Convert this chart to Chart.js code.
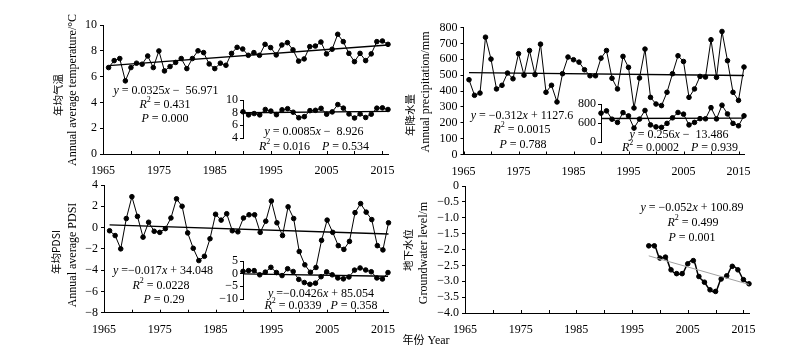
<!DOCTYPE html>
<html><head><meta charset="utf-8">
<script src="https://cdn.jsdelivr.net/npm/chart.js@4.4.0/dist/chart.umd.min.js"></script>
<style>
html,body{margin:0;padding:0;background:#fff;}
#wrap{position:relative;width:800px;height:357px;overflow:hidden;background:#fff;}
canvas{position:absolute;}
.t{position:absolute;transform:translate(-50%,-50%);font-family:'Liberation Serif','Noto Sans CJK SC',serif;font-size:12px;color:#000;white-space:pre;line-height:1;}
.t sup{font-size:8px;vertical-align:top;position:relative;top:-2px;}
.r{transform:translate(-50%,-50%) rotate(-90deg);}
.cn{font-family:'Noto Sans CJK SC',sans-serif;font-size:10.5px;}
</style></head><body><div id="wrap"></div>
<script>
// ---------------- data ----------------
const years = [1966,1967,1968,1969,1970,1971,1972,1973,1974,1975,1976,1977,1978,1979,1980,1981,1982,1983,1984,1985,1986,1987,1988,1989,1990,1991,1992,1993,1994,1995,1996,1997,1998,1999,2000,2001,2002,2003,2004,2005,2006,2007,2008,2009,2010,2011,2012,2013,2014,2015,2016];
const temperature = [6.7,7.24,7.4,5.67,6.7,7.04,6.96,7.6,6.7,7.99,6.44,6.78,7.1,7.4,6.62,7.4,8.0,7.86,6.98,6.62,7.04,6.88,7.8,8.27,8.14,7.65,7.86,7.65,8.5,8.25,7.68,8.45,8.63,8.07,7.2,7.37,8.32,8.37,8.68,7.76,8.12,9.28,8.71,7.8,7.16,7.8,7.24,7.76,8.71,8.76,8.5];
const precipitation = [471,373,387,739,601,413,436,513,477,635,500,655,503,695,392,436,331,509,614,597,582,534,496,496,607,655,480,413,618,549,293,482,664,360,318,308,392,509,622,586,360,413,492,488,723,486,775,591,392,341,551];
const pdsi = [-0.3,-0.75,-2.0,0.85,2.9,1.05,-0.9,0.5,-0.35,-0.45,-0.1,0.9,2.7,2.0,-0.5,-1.95,-3.1,-2.7,-1.05,1.25,0.7,1.3,-0.3,-0.4,0.9,1.2,1.2,-0.45,0.6,2.5,0.45,-0.75,1.95,0.85,-2.25,-3.5,-4.2,-3.75,-1.2,0.7,-0.45,-1.7,-2.05,-1.3,1.4,2.25,1.45,0.75,-1.7,-2.1,0.45];
const gwYears = [1998,1999,2000,2001,2002,2003,2004,2005,2006,2007,2008,2009,2010,2011,2012,2013,2014,2015,2016];
const groundwater = [-1.885,-1.885,-2.27,-2.24,-2.64,-2.76,-2.76,-2.45,-2.35,-2.85,-3.03,-3.27,-3.32,-2.93,-2.83,-2.53,-2.64,-2.95,-3.08];

const trendYears = [1966, 2016];
const tempTrend = [6.85, 8.45];
const precipTrend = [516, 498];
const pdsiTrend = [0.25, -0.6];
const gwTrendYears = [1998, 2016];
const gwTrend = [-2.2, -3.1];
const insetStartYear = 1990;
const insetTrendYears = [1990, 2016];
const tempInsetTrend = [7.99, 8.21];
const precipInsetTrend = [496, 503];
const pdsiInsetTrend = [-0.1, -1.0];

const xTickYears = [1965,1970,1975,1980,1985,1990,1995,2000,2005,2010,2015];
const tempTicks = [0,2,4,6,8,10];
const precipTicks = [0,100,200,300,400,500,600,700,800];
const pdsiTicks = [-8,-6,-4,-2,0,2,4];
const gwTicks = [-4,-3.5,-3,-2.5,-2,-1.5,-1,-0.5,0];
const tempInsetTicks = [4,6,8,10];
const tempInsetLabels = ['4','6','8','10'];
const precipInsetTicks = [0,400,800];
const precipInsetLabels = ['0','600','800'];
const pdsiInsetTicks = [-10,-5,0,5];
const pdsiInsetLabels = ['\u221210','\u22125','0','5'];

// ---------------- helpers ----------------
Chart.defaults.font.family = "'Liberation Serif','Noto Sans CJK SC',serif";
Chart.defaults.font.size = 12;
Chart.defaults.color = '#000';
const wrap = document.getElementById('wrap');
function addCanvas(left, top, w, h){
  const c = document.createElement('canvas');
  c.width = w; c.height = h;
  c.style.left = left+'px'; c.style.top = top+'px';
  c.style.width = w+'px'; c.style.height = h+'px';
  wrap.appendChild(c); return c;
}
function addText(html, cx, cy, extra){
  const d = document.createElement('div');
  d.className = 't' + (extra ? ' '+extra : '');
  d.innerHTML = html;
  d.style.left = cx+'px'; d.style.top = cy+'px';
  wrap.appendChild(d);
}
function xy(xs, ys){ return xs.map((x,i)=>({x:x, y:ys[i]})); }
const minus = v => String(v).replace('-', '\u2212');

const inwardTicks = {
  id:'inwardTicks',
  afterDraw(chart){
    const s = chart.scales.x; const ctx = chart.ctx;
    ctx.save(); ctx.strokeStyle = '#000'; ctx.lineWidth = 1;
    for (const t of s.ticks){
      const x = Math.round(s.getPixelForValue(t.value)) + 0.5;
      ctx.beginPath(); ctx.moveTo(x, s.top); ctx.lineTo(x, s.top-3); ctx.stroke();
    }
    ctx.restore();
  }
};

function mainPanel(cfg){
  const {left, top, w, h, area, yMin, yMax, yTicks, yFmt, series, trend, smooth, trendColor, trendWidth, lineWidth} = cfg;
  const c = addCanvas(left, top, w, h);
  return new Chart(c, {
    type:'line',
    data:{ datasets:[
      { data:series, borderColor:'#000', backgroundColor:'#000', borderWidth:lineWidth||1, pointRadius:2.3, pointBorderWidth:1, pointHoverRadius:2.3, tension: smooth?0.4:0, clip:false, order:1 },
      { data:trend, borderColor:trendColor||'#000', borderWidth:trendWidth||1.4, pointRadius:0, tension:0, clip:false, order:0 }
    ]},
    options:{
      responsive:false, animation:false, devicePixelRatio:1, events:[],
      layout:{ padding:{ left:0, top:area.top, right:w-area.right, bottom:0 } },
      plugins:{ legend:{display:false}, tooltip:{enabled:false} },
      scales:{
        x:{ type:'linear', min:1965, max:2016,
          afterBuildTicks(s){ s.ticks = xTickYears.map(v=>({value:v})); },
          afterFit(s){ s.height = h-area.bottom; s.paddingLeft = 0; s.paddingRight = 0; },
          grid:{ display:false }, border:{ display:true, color:'#000', width:1 },
          ticks:{ padding:2, maxRotation:0, minRotation:0, autoSkip:false, color:'#000', font:{size:12}, callback:v => (v%10===5 ? String(v) : '') } },
        y:{ type:'linear', min:yMin, max:yMax,
          afterBuildTicks(s){ s.ticks = yTicks.map(v=>({value:v})); },
          afterFit(s){ s.width = area.left; s.paddingTop = 0; s.paddingBottom = 0; },
          grid:{ display:true, drawOnChartArea:false, drawTicks:true, tickLength:3, color:'#000', lineWidth:1 },
          border:{ display:true, color:'#000', width:1 },
          ticks:{ padding:3, autoSkip:false, color:'#000', font:{size:12}, callback:yFmt } }
      }
    },
    plugins:[inwardTicks]
  });
}

function insetPanel(main, cfg){
  const {panelLeft, yTopAbs, yBotAbs, yMin, yMax, yTicks, yLabels, series, trend} = cfg;
  const xs = main.scales.x;
  const p0 = panelLeft + xs.getPixelForValue(insetTrendYears[0]);
  const p1 = panelLeft + xs.getPixelForValue(insetTrendYears[1]);
  const W = 32, T = 9, B = 9, R = 6;
  const L = Math.round(p0) - W;
  const areaW = Math.round(p1 - p0);
  const top = Math.round(yTopAbs) - T;
  const areaH = Math.round(yBotAbs - yTopAbs);
  const c = addCanvas(L, top, W+areaW+R, areaH+T+B);
  return new Chart(c, {
    type:'line',
    data:{ datasets:[
      { data:series, borderColor:'#000', backgroundColor:'#000', borderWidth:1, pointRadius:2.3, pointBorderWidth:1, pointHoverRadius:2.3, tension:0, clip:false, order:1 },
      { data:trend, borderColor:'#000', borderWidth:1.4, pointRadius:0, tension:0, clip:false, order:0 }
    ]},
    options:{
      responsive:false, animation:false, devicePixelRatio:1, events:[],
      layout:{ padding:{ left:0, top:T, right:R, bottom:B } },
      plugins:{ legend:{display:false}, tooltip:{enabled:false} },
      scales:{
        x:{ type:'linear', display:false, min:insetTrendYears[0], max:insetTrendYears[1] },
        y:{ type:'linear', min:yMin, max:yMax,
          afterBuildTicks(s){ s.ticks = yTicks.map(v=>({value:v})); },
          afterFit(s){ s.width = W; s.paddingTop = 0; s.paddingBottom = 0; },
          grid:{ display:true, drawOnChartArea:false, drawTicks:true, tickLength:3, color:'#000', lineWidth:1 },
          border:{ display:true, color:'#000', width:1 },
          ticks:{ padding:2, autoSkip:false, color:'#000', font:{size:12}, callback:v => yLabels[yTicks.indexOf(v)] } }
      }
    }
  });
}

function sub(xs, ys, from){ const out=[]; xs.forEach((x,i)=>{ if(x>=from) out.push({x:x, y:ys[i]}); }); return out; }

// ---------------- panels ----------------
const p1 = mainPanel({ left:0, top:0, w:400, h:178, area:{left:103, right:388, top:25, bottom:154},
  yMin:0, yMax:10, yTicks:tempTicks, yFmt:v=>String(v),
  series:xy(years, temperature), trend:xy(trendYears, tempTrend) });
const p2 = mainPanel({ left:400, top:0, w:400, h:178, area:{left:63.5, right:344, top:27.5, bottom:154.5},
  yMin:0, yMax:800, yTicks:precipTicks, yFmt:v=>String(v),
  series:xy(years, precipitation), trend:xy(trendYears, precipTrend) });
const p3 = mainPanel({ left:0, top:170, w:400, h:187, area:{left:104, right:388.5, top:15, bottom:142.7},
  yMin:-8, yMax:4, yTicks:pdsiTicks, yFmt:v=>minus(v),
  series:xy(years, pdsi), trend:xy(trendYears, pdsiTrend) });
const p4 = mainPanel({ left:400, top:170, w:400, h:187, area:{left:65, right:349, top:16, bottom:143},
  yMin:-4, yMax:0, yTicks:gwTicks, yFmt:v=> v===0 ? '0' : minus(v.toFixed(1)),
  series:xy(gwYears, groundwater), trend:xy(gwTrendYears, gwTrend), smooth:true, trendColor:'#a0a0a0', trendWidth:1, lineWidth:1.5 });

insetPanel(p1, { panelLeft:0, yTopAbs:99.5, yBotAbs:137, yMin:4, yMax:10, yTicks:tempInsetTicks, yLabels:tempInsetLabels,
  series:sub(years, temperature, insetStartYear), trend:xy(insetTrendYears, tempInsetTrend) });
insetPanel(p2, { panelLeft:400, yTopAbs:103.5, yBotAbs:141.5, yMin:0, yMax:800, yTicks:precipInsetTicks, yLabels:precipInsetLabels,
  series:sub(years, precipitation, insetStartYear), trend:xy(insetTrendYears, precipInsetTrend) });
insetPanel(p3, { panelLeft:0, yTopAbs:261, yBotAbs:299, yMin:-10, yMax:5, yTicks:pdsiInsetTicks, yLabels:pdsiInsetLabels,
  series:sub(years, pdsi, insetStartYear), trend:xy(insetTrendYears, pdsiInsetTrend) });

// ---------------- axis titles ----------------
addText('年均气温', 58, 94.5, 'r cn');
addText('Annual average temperature/°C', 72, 89.5, 'r');
addText('年降水量', 410, 115, 'r cn');
addText('Annual precipitation/mm', 425, 91.5, 'r');
addText('年均PDSI', 56, 252, 'r cn');
addText('Annual average PDSI', 71.5, 255, 'r');
addText('地下水位', 408, 250, 'r cn');
addText('Groundwater level/m', 422.5, 252.5, 'r');
addText('<span style="font-family:\'Noto Sans CJK SC\';font-size:11px">年份</span> Year', 426, 340);

// ---------------- equations ----------------
addText('<i>y</i> = 0.0325<i>x</i> \u2212  56.971', 166, 90);
addText('<i>R</i><sup>2</sup> = 0.431', 165, 104);
addText('<i>P</i> = 0.000', 165, 118);
addText('<i>y</i> = 0.0085<i>x</i> \u2212  8.926', 314, 131);
addText('<i>R</i><sup>2</sup> = 0.016    <i>P</i> = 0.534', 314, 146);

addText('<i>y</i> = \u22120.312<i>x</i> + 1127.6', 522, 115);
addText('<i>R</i><sup>2</sup> = 0.0015', 522, 129);
addText('<i>P</i> = 0.788', 523, 144);
addText('<i>y</i> = 0.256<i>x</i> \u2212  13.486', 679, 134);
addText('<i>R</i><sup>2</sup> = 0.0002    <i>P</i> = 0.939', 680, 147);

addText('<i>y</i> =\u22120.017<i>x</i> + 34.048', 163, 270);
addText('<i>R</i><sup>2</sup> = 0.0228', 161, 285);
addText('<i>P</i> = 0.29', 164, 299);
addText('<i>y</i> =\u22120.0426<i>x</i> + 85.054', 321, 292.5);
addText('<i>R</i><sup>2</sup> = 0.0339   <i>P</i> = 0.358', 321, 305);

addText('<i>y</i> = \u22120.052<i>x</i> + 100.89', 692, 207);
addText('<i>R</i><sup>2</sup> = 0.499', 693, 222);
addText('<i>P</i> = 0.001', 692, 237);
</script>
</body></html>
